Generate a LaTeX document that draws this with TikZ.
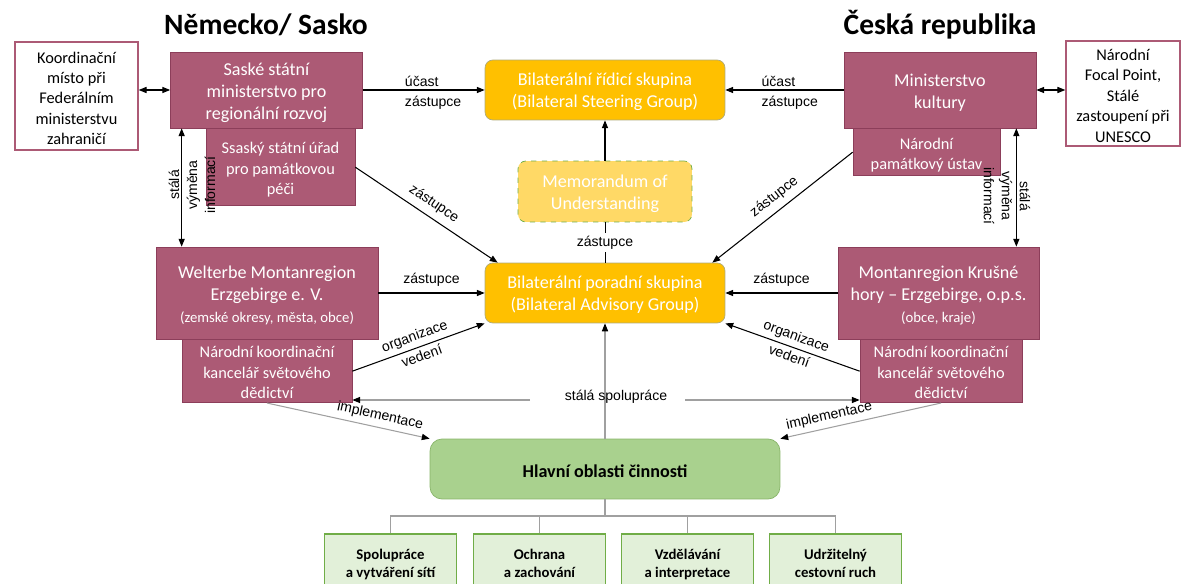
\documentclass[tikz,border=0pt]{standalone}
\usepackage{fontspec}
\setmainfont{Carlito}
\newfontfamily\arialfont{Liberation Sans}
\usetikzlibrary{positioning, arrows.meta, calc}

\definecolor{mauve}{RGB}{172,90,117}
\definecolor{mauvedark}{RGB}{140,62,90}
\definecolor{gold}{RGB}{255,192,0}
\definecolor{goldline}{RGB}{175,170,120}
\definecolor{memoyellow}{RGB}{255,217,102}
\definecolor{leafgreen}{RGB}{169,209,142}
\definecolor{leafline}{RGB}{135,180,105}
\definecolor{palegreen}{RGB}{226,240,217}
\definecolor{boxgreen}{RGB}{112,173,71}
\definecolor{linegray}{RGB}{160,160,160}

% first line strut, height set by the node style
\newcommand{\fl}{\rule{0pt}{\flh}}
\newcommand{\flh}{1em}

\begin{document}
\begin{tikzpicture}[x=0.02cm, y=-0.02cm, align=center,
    top/.style = {inner sep=0pt, execute at begin node={\def\flh{#1}}, execute at end node={\rule[-0.24em]{0pt}{0pt}}},
    org/.style = {top=1.08em, draw=mauvedark, fill=mauve, text=white, font=\fontsize{10.3}{12.5}\selectfont},
    sub/.style = {org, top=1.1em, font=\fontsize{9.3}{11.6}\selectfont},
    ext/.style = {top=1.2em, draw=mauve, fill=white, line width=0.8pt, font=\fontsize{9.3}{11.6}\selectfont},
    group/.style = {top=0.97em, draw=goldline, fill=gold, text=white, rounded corners=4.5pt, minimum width=4.8cm, minimum height=1.2cm, font=\fontsize{10.3}{12.5}\selectfont},
    area/.style = {top=1.1em, draw=boxgreen, fill=palegreen, line width=1pt, minimum width=2.64cm, minimum height=1.12cm, font=\bfseries\fontsize{8.4}{10.4}\selectfont},
    title/.style = {font=\bfseries\fontsize{16.8}{20}\selectfont},
    lbl/.style = {inner sep=1.5pt, font=\arialfont\fontsize{8}{10.2}\selectfont},
    arr/.style = {-{Triangle[length=4.5pt,width=3.5pt]}, line width=0.6pt},
    dblarr/.style = {{Triangle[length=4.5pt,width=3.5pt]}-{Triangle[length=4.5pt,width=3.5pt]}, line width=0.6pt},
    grayarr/.style = {draw=linegray, line width=0.6pt, -{Triangle[length=4.5pt,width=3.5pt,color=black]}},
    grayline/.style = {draw=linegray, line width=0.6pt}]
    \useasboundingbox (0,0) rectangle (1184,584);

    % headings
    \node[title] (de) at (266,25) {Německo/ Sasko};
    \node[title] (cz) at (940,25) {Česká republika};

    % Saxony
    \node[ext, minimum width=2.46cm, minimum height=2.16cm] (koord) at (76.5,96) {\fl Koordinační\\místo při\\Federálním\\ministerstvu\\zahraničí};
    \node[org, minimum width=3.84cm, minimum height=1.52cm] (sax) at (266.5,90) {\fl Saské státní\\ministerstvo pro\\regionální rozvoj};
    \node[sub, minimum width=2.98cm, minimum height=1.54cm, below=0pt of sax, xshift=0.28cm] (saxpam) {\fl Ssaský státní úřad\\pro památkovou\\péči};
    \node[org, minimum width=4.44cm, minimum height=1.84cm] (wmr) at (267,293) {\fl Welterbe Montanregion\\Erzgebirge e. V.\\{\fontsize{8.4}{10}\selectfont(zemské okresy, města, obce)}};
    \node[sub, minimum width=3.4cm, minimum height=1.26cm, below=0pt of wmr] (kancL) {\fl Národní koordinační\\kancelář světového\\dědictví};

    % Czech Republic
    \node[org, minimum width=3.84cm, minimum height=1.52cm] (mk) at (940,90) {\fl Ministerstvo\\kultury};
    \node[sub, minimum width=2.94cm, minimum height=0.94cm, below=0pt of mk, xshift=-0.27cm] (npu) {\fl Národní\\památkový ústav};
    \node[ext, minimum width=2.28cm, minimum height=2.06cm] (focal) at (1123,93.5) {\fl Národní\\Focal Point,\\Stálé\\zastoupení při\\UNESCO};
    \node[org, minimum width=4.02cm, minimum height=1.84cm] (mkh) at (938.5,293) {\fl Montanregion Krušné\\hory -- Erzgebirge, o.p.s.\\{\fontsize{8.4}{10}\selectfont(obce, kraje)}};
    \node[sub, minimum width=3.24cm, minimum height=1.26cm, below=0pt of mkh, xshift=0.05cm] (kancR) {\fl Národní koordinační\\kancelář světového\\dědictví};

    % bilateral groups
    \node[group] (bsg) at (605,90) {\fl Bilaterální řídicí skupina\\(Bilateral Steering Group)};
    \node[group, fill=memoyellow, draw=boxgreen, dashed, minimum width=3.48cm, minimum height=1.22cm] (mou) at (605,191.5) {\fl Memorandum of\\Understanding};
    \node[group] (bag) at (605,293) {\fl Bilaterální poradní skupina\\(Bilateral Advisory Group)};
    \node[top=1.2em, draw=leafline, fill=leafgreen, rounded corners=6.8pt, minimum width=7cm, minimum height=1.2cm, font=\bfseries\fontsize{10.3}{12.5}\selectfont] (main) at (605,469) {\fl Hlavní oblasti činnosti};

    % areas
    \node[area] (a1) at (390.5,562) {\fl Spolupráce\\a vytváření sítí};
    \node[area] (a2) at (539.5,562) {\fl Ochrana\\a zachování};
    \node[area] (a3) at (687.5,562) {\fl Vzdělávání\\a interpretace};
    \node[area] (a4) at (835.5,562) {\fl Udržitelný\\cestovní ruch};

    % connectors
    \draw[dblarr] (koord.east |- sax) -- (sax);
    \draw[dblarr] (mk) -- (focal.west |- mk);
    \draw[arr] (sax) -- (bsg) node[lbl, pos=0.32, anchor=west, align=left, yshift=-1.7pt] {účast\\[1pt]zástupce};
    \draw[arr] (mk) -- (bsg) node[lbl, pos=0.72, anchor=west, align=left, yshift=-1.7pt] {účast\\[1pt]zástupce};
    \draw[arr] (mou) -- (bsg);
    \draw (mou) -- (bag) node[lbl, midway, fill=white] {zástupce};
    \draw[arr] (saxpam.east) -- ([xshift=0.26cm]bag.north west) node[lbl, sloped, midway, above=2pt] {zástupce};
    \draw[arr] (npu.west) -- ([xshift=-0.26cm]bag.north east) node[lbl, sloped, midway, above=2pt] {zástupce};
    \draw[arr] (wmr) -- (bag) node[lbl, midway, above=2pt] {zástupce};
    \draw[arr] (mkh) -- (bag) node[lbl, midway, above=2pt] {zástupce};
    \draw[arr] (kancL.east) -- (bag.south west) node[lbl, sloped, midway, above=-10pt] {organizace\\[2pt]vedení};
    \draw[arr] (kancR.west) -- (bag.south east) node[lbl, sloped, midway, above=-10pt] {organizace\\[2pt]vedení};

    \coordinate (infoL) at ([xshift=0.52cm]wmr.north west);
    \coordinate (infoR) at ([xshift=-0.46cm]mkh.north east);
    \draw[dblarr] (sax.south -| infoL) -- (infoL);
    \draw[dblarr] (mk.south -| infoR) -- (infoR);
    \node[lbl, rotate=90] (infoLtxt) at (192,185) {stálá\\výměna\\informací};
    \node[lbl, rotate=-90] (infoRtxt) at (1007,196) {stálá\\výměna\\informací};

    % cooperation and implementation
    \draw[grayarr] (main) -- (bag);
    \node[lbl] (spol) at (616,397) {stálá spolupráce};
    \coordinate (spolL) at (530,400);
    \coordinate (spolR) at (685,400);
    \draw[grayarr] (spolL) -- (spolL -| kancL.east);
    \draw[grayarr] (spolR) -- (spolR -| kancR.west);
    \draw[grayarr] (kancL.south) -- (main.north west) node[lbl, sloped, pos=0.68, above=1pt] {implementace};
    \draw[grayarr] (kancR.south) -- (main.north east) node[lbl, sloped, pos=0.68, above=1pt] {implementace};

    % tree
    \coordinate (fork) at (605,516);
    \draw[grayline] (main) -- (fork);
    \foreach \a in {a1,a2,a3,a4}
        \draw[grayline] (fork) -| (\a);
\end{tikzpicture}
\end{document}
